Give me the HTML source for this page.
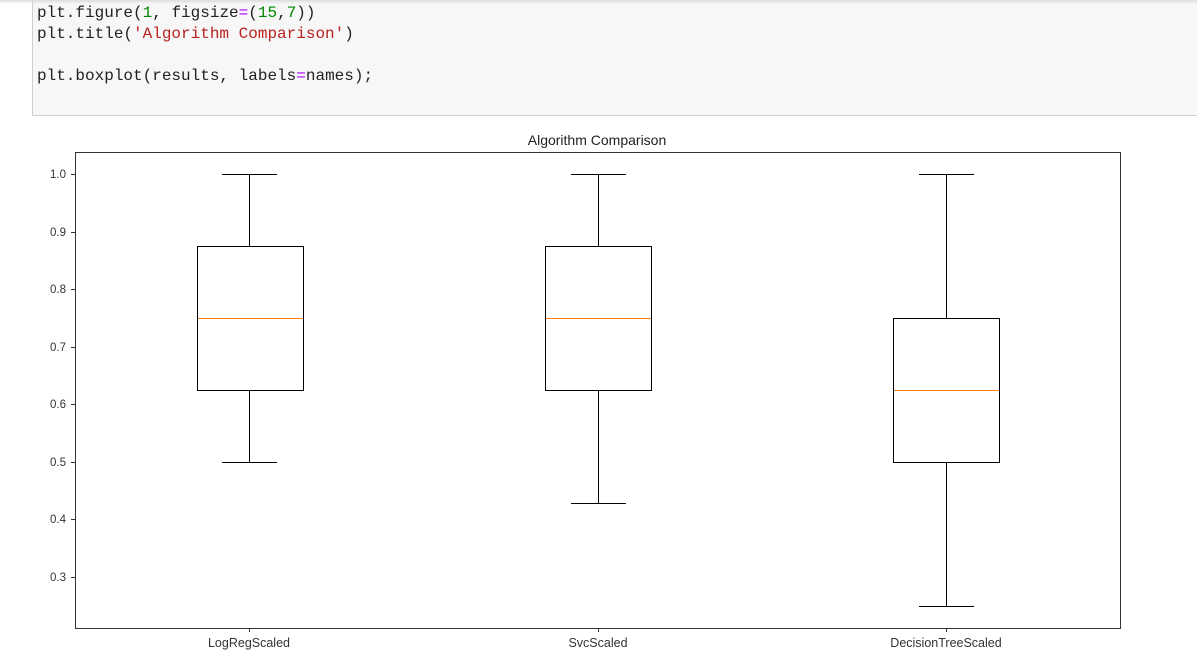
<!DOCTYPE html>
<html><head><style>
body{margin:0;width:1197px;height:661px;background:#fff;overflow:hidden;position:relative;font-family:"Liberation Sans",sans-serif}
.cell{position:absolute;left:32px;top:0;width:1170px;height:116px;background:#f7f7f7;border:1px solid #cfcfcf;border-top:none;box-sizing:border-box}
.topsh{position:absolute;left:0;top:0;width:1197px;height:4px;background:linear-gradient(#ddd,#fff0)}
pre{position:absolute;left:37px;top:3px;margin:0;font-family:"Liberation Mono",monospace;font-size:16px;line-height:21px;color:#222}
.g{color:#080}.r{color:#ba2121}.p{color:#a0f}
</style></head><body>
<div class="cell"></div><div class="topsh"></div>
<pre>plt.figure(<span class="g">1</span>, figsize<span class="p">=</span>(<span class="g">15</span>,<span class="g">7</span>))
plt.title(<span class="r">'Algorithm Comparison'</span>)

plt.boxplot(results, labels<span class="p">=</span>names);</pre>
<svg width="1197" height="661" style="position:absolute;left:0;top:0" font-family="Liberation Sans, sans-serif">
<text x="597" y="145" font-size="14" text-anchor="middle" fill="#222">Algorithm Comparison</text>
<rect x="75.5" y="152.5" width="1045" height="476" fill="none" stroke="#333" stroke-width="1"/>
<g font-size="11.5" fill="#333" text-anchor="end">
<text x="66" y="178">1.0</text><text x="66" y="236">0.9</text><text x="66" y="293">0.8</text><text x="66" y="351">0.7</text><text x="66" y="408">0.6</text><text x="66" y="466">0.5</text><text x="66" y="523">0.4</text><text x="66" y="581">0.3</text>
</g>
<g stroke="#333">
<line x1="71" x2="75" y1="174.5" y2="174.5"/><line x1="71" x2="75" y1="232.5" y2="232.5"/><line x1="71" x2="75" y1="289.5" y2="289.5"/><line x1="71" x2="75" y1="347.5" y2="347.5"/><line x1="71" x2="75" y1="404.5" y2="404.5"/><line x1="71" x2="75" y1="462.5" y2="462.5"/><line x1="71" x2="75" y1="519.5" y2="519.5"/><line x1="71" x2="75" y1="577.5" y2="577.5"/>
<line x1="249.5" x2="249.5" y1="628" y2="632"/><line x1="598.5" x2="598.5" y1="628" y2="632"/><line x1="946.5" x2="946.5" y1="628" y2="632"/>
</g>
<g font-size="12.5" fill="#333" text-anchor="middle">
<text x="249" y="647">LogRegScaled</text><text x="598" y="647">SvcScaled</text><text x="946" y="647">DecisionTreeScaled</text>
</g>
<g stroke="#000" fill="none">
<rect x="197.5" y="246.5" width="106" height="144"/>
<line x1="249.5" x2="249.5" y1="174" y2="246"/><line x1="249.5" x2="249.5" y1="390" y2="462"/>
<line x1="222" x2="277" y1="174.5" y2="174.5"/><line x1="222" x2="277" y1="462.5" y2="462.5"/>
<rect x="545.5" y="246.5" width="106" height="144"/>
<line x1="598.5" x2="598.5" y1="174" y2="246"/><line x1="598.5" x2="598.5" y1="390" y2="503"/>
<line x1="571" x2="626" y1="174.5" y2="174.5"/><line x1="571" x2="626" y1="503.5" y2="503.5"/>
<rect x="893.5" y="318.5" width="106" height="144"/>
<line x1="946.5" x2="946.5" y1="174" y2="318"/><line x1="946.5" x2="946.5" y1="462" y2="606"/>
<line x1="919" x2="974" y1="174.5" y2="174.5"/><line x1="919" x2="974" y1="606.5" y2="606.5"/>
</g>
<g stroke="#ff7f0e">
<line x1="198" x2="303" y1="318.5" y2="318.5"/><line x1="546" x2="651" y1="318.5" y2="318.5"/><line x1="894" x2="999" y1="390.5" y2="390.5"/>
</g>
</svg>
</body></html>
